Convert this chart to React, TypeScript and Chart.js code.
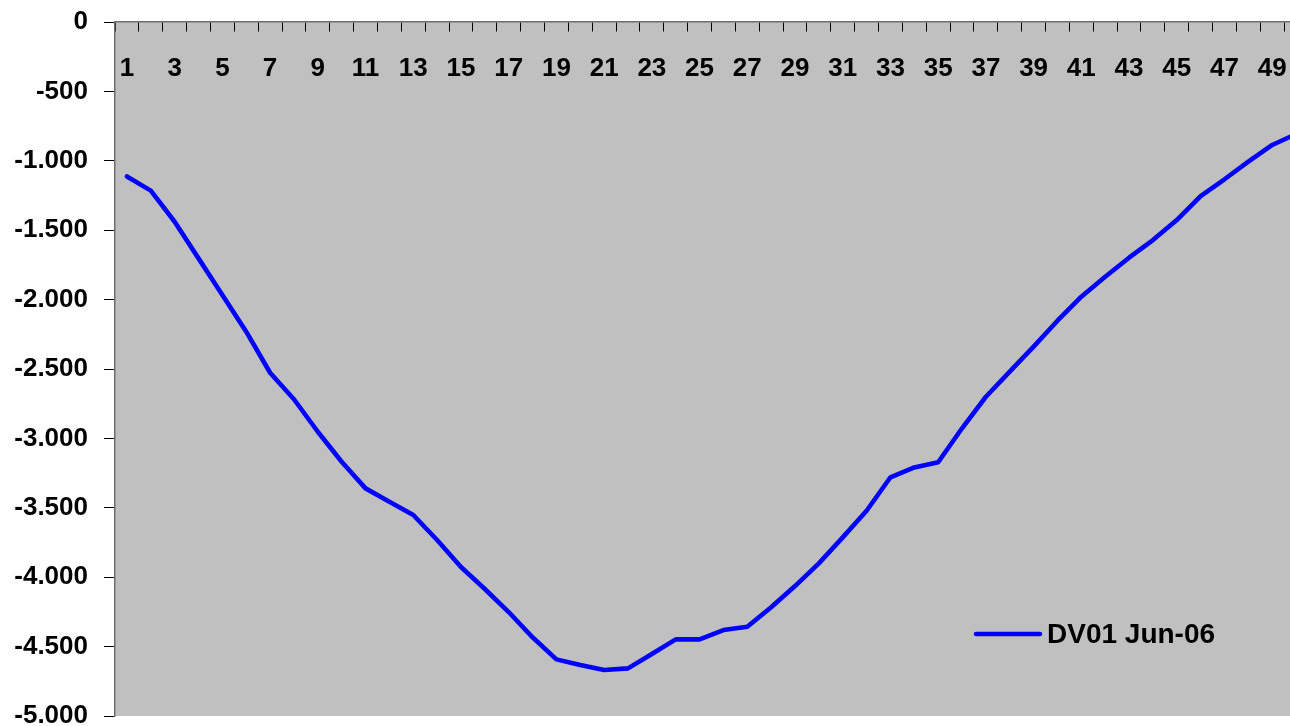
import { useEffect, useRef } from "react";
import { Chart, registerables } from "chart.js";

Chart.register(...registerables);

// Periods along the category axis
const periods: string[] = [
  "1", "2", "3", "4", "5", "6", "7", "8", "9", "10",
  "11", "12", "13", "14", "15", "16", "17", "18", "19", "20",
  "21", "22", "23", "24", "25", "26", "27", "28", "29", "30",
  "31", "32", "33", "34", "35", "36", "37", "38", "39", "40",
  "41", "42", "43", "44", "45", "46", "47", "48", "49", "50",
];

// DV01 per period
const dv01Jun06: number[] = [
  -1113, -1215, -1439, -1703, -1967, -2231, -2527, -2718, -2952, -3168,
  -3360, -3456, -3552, -3732, -3927, -4085, -4251, -4433, -4592, -4633,
  -4669, -4657, -4553, -4448, -4448, -4381, -4357, -4217, -4064, -3900,
  -3713, -3521, -3280, -3209, -3172, -2927, -2700, -2519, -2339, -2152,
  -1979, -1835, -1698, -1571, -1427, -1254, -1133, -1006, -886, -807,
];

const seriesLabel = "DV01 Jun-06";

const yMin = -5000;
const yMax = 0;
const yStep = 500;

const FONT = "'Liberation Sans', Arial, Helvetica, sans-serif";

// European-style thousands separator: -1.000
function formatThousands(v: number): string {
  const s = Math.abs(Math.round(v))
    .toString()
    .replace(/\B(?=(\d{3})+(?!\d))/g, ".");
  return (v < 0 ? "-" : "") + s;
}

const plotBackground = {
  id: "plotBackground",
  beforeDraw(chart: any) {
    const { ctx, chartArea } = chart;
    ctx.save();
    ctx.fillStyle = "#C0C0C0";
    ctx.fillRect(
      chartArea.left,
      chartArea.top,
      chartArea.right - chartArea.left,
      chartArea.bottom - chartArea.top
    );
    ctx.restore();
  },
};

// Legend drawn inside the plot, lower right
const insideLegend = {
  id: "insideLegend",
  afterDraw(chart: any) {
    const { ctx, chartArea } = chart;
    const ds = chart.data.datasets[0];
    const x0 = chartArea.right - 332;
    const y0 = chartArea.bottom - 82;
    ctx.save();
    ctx.strokeStyle = ds.borderColor;
    ctx.lineWidth = 4.5;
    ctx.lineCap = "round";
    ctx.beginPath();
    ctx.moveTo(x0, y0);
    ctx.lineTo(x0 + 64, y0);
    ctx.stroke();
    ctx.fillStyle = "#000";
    ctx.font = `bold 28px ${FONT}`;
    ctx.textBaseline = "middle";
    ctx.textAlign = "left";
    ctx.fillText(ds.label, x0 + 71, y0 + 1);
    ctx.restore();
  },
};

export default function App() {
  const canvasRef = useRef<HTMLCanvasElement | null>(null);

  useEffect(() => {
    if (!canvasRef.current) return;
    const chart = new Chart(canvasRef.current, {
      type: "line",
      data: {
        labels: periods,
        datasets: [
          {
            label: seriesLabel,
            data: dv01Jun06,
            borderColor: "#0000FF",
            backgroundColor: "#0000FF",
            borderWidth: 4.6,
            borderCapStyle: "round",
            borderJoinStyle: "round",
            pointRadius: 0,
            pointHoverRadius: 0,
            tension: 0,
            fill: false,
          },
        ],
      },
      options: {
        animation: false,
        responsive: true,
        maintainAspectRatio: false,
        layout: { padding: { top: 22, right: 12, bottom: 24, left: 0 } },
        plugins: {
          legend: { display: false },
          tooltip: { enabled: false },
        },
        scales: {
          x: {
            type: "category",
            position: { y: 0 } as any,
            offset: true,
            grid: {
              offset: true,
              drawOnChartArea: false,
              drawTicks: true,
              tickLength: 9,
              tickColor: "#000",
              tickWidth: 1,
            },
            border: { display: true, color: "#6e6e6e", width: 1.5 },
            ticks: {
              autoSkip: false,
              maxRotation: 0,
              minRotation: 0,
              padding: 22,
              color: "#000",
              font: { family: FONT, size: 26, weight: "bold" },
              callback: function (this: any, val: any, idx: number) {
                return idx % 2 === 0 ? this.getLabelForValue(val) : "";
              },
            },
            afterFit: (scale: any) => {
              scale.paddingLeft = 0;
              scale.paddingRight = 0;
            },
          },
          y: {
            min: yMin,
            max: yMax,
            grid: {
              drawOnChartArea: false,
              drawTicks: true,
              tickLength: 11,
              tickColor: "#000",
              tickWidth: 1,
            },
            border: { display: true, color: "#6e6e6e", width: 1.5 },
            ticks: {
              stepSize: yStep,
              padding: 16,
              color: "#000",
              font: { family: FONT, size: 26, weight: "bold" },
              callback: (v: any) => formatThousands(Number(v)),
            },
            afterFit: (scale: any) => {
              scale.width = 115;
              scale.paddingTop = 0;
              scale.paddingBottom = 0;
            },
          },
        },
      },
      plugins: [plotBackground, insideLegend],
    });
    return () => chart.destroy();
  }, []);

  return (
    <div
      style={{
        position: "absolute",
        left: 0,
        top: 0,
        width: 1290,
        height: 726,
        overflow: "hidden",
        background: "#fff",
      }}
    >
      <div style={{ position: "relative", width: 1320, height: 740 }}>
        <canvas ref={canvasRef} />
      </div>
    </div>
  );
}
